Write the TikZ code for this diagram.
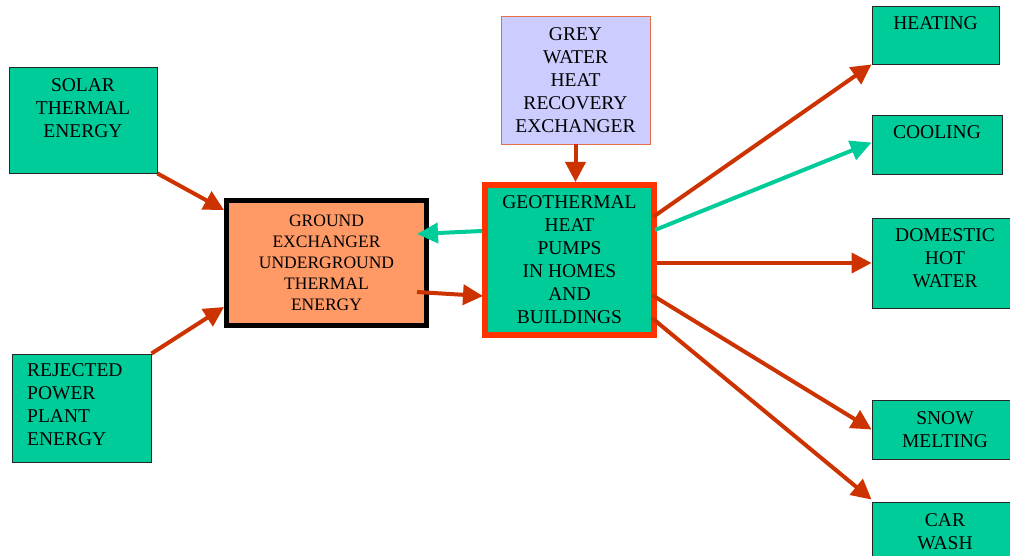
\documentclass[tikz,border=0pt]{standalone}
\usepackage{fontspec}
\setmainfont{LiberationSerif}[Extension=.ttf,UprightFont=*-Regular,BoldFont=*-Bold]
\usetikzlibrary{arrows.meta}
\definecolor{tilegreen}{RGB}{0,204,153}
\definecolor{rust}{RGB}{204,51,0}
\definecolor{brightred}{RGB}{255,51,0}
\definecolor{salmon}{RGB}{255,153,102}
\definecolor{lavender}{RGB}{204,204,255}
\definecolor{brick}{RGB}{228,112,74}

\begin{document}
\begin{tikzpicture}[x=1pt,y=-1pt]
	\tikzstyle{txt}=[align=center,inner sep=0pt,font=\rmfamily\fontsize{19.5}{23}\selectfont]
	\tikzstyle{tile}=[draw=black!85,fill=tilegreen,line width=0.9pt,txt]
	\tikzstyle{groundbox}=[draw=black,fill=salmon,line width=5pt,txt,font=\rmfamily\fontsize{17.5}{21}\selectfont]
	\tikzstyle{pumpbox}=[draw=brightred,fill=tilegreen,line width=6pt,txt]
	\tikzstyle{greybox}=[draw=brick,fill=lavender,line width=0.9pt,txt]
	\tikzstyle{hot}=[draw=rust,line width=4pt,-{Triangle[length=20pt,width=20pt]}]
	\tikzstyle{cold}=[draw=tilegreen,line width=4pt,-{Triangle[length=21pt,width=20pt]}]
	\path[use as bounding box,clip] (0,0) rectangle (1010,556);
	% sources
	\node[tile,minimum width=148,minimum height=106] (solar) at (83,120){};
	\node[txt] (solar-t) at ([shift={(0,-12)}]solar.center){SOLAR\\THERMAL\\ENERGY};
	\node[tile,minimum width=139,minimum height=108] (rejected) at (81.5,408){};
	\node[txt,align=left,anchor=west] (rejected-t) at (27,405){REJECTED\\POWER\\PLANT\\ENERGY};
	\node[greybox,minimum width=149,minimum height=128] (grey) at (575.5,80){GREY\\WATER\\HEAT\\RECOVERY\\EXCHANGER};
	% centre
	\node[groundbox,minimum width=200,minimum height=125] (ground) at (326.5,263){GROUND\\EXCHANGER\\UNDERGROUND\\THERMAL\\ENERGY};
	\node[pumpbox,minimum width=169,minimum height=150] (geo) at (569.5,260){GEOTHERMAL\\HEAT\\PUMPS\\IN HOMES\\AND\\BUILDINGS};
	% uses
	\node[tile,minimum width=127,minimum height=58] (heating) at (935.5,35){};
	\node[txt] (heating-t) at ([shift={(0,-12)}]heating.center){HEATING};
	\node[tile,minimum width=130,minimum height=59] (cooling) at (937,144.5){};
	\node[txt] (cooling-t) at ([shift={(0,-12)}]cooling.center){COOLING};
	\node[tile,minimum width=146,minimum height=90] (hotwater) at (945,263){};
	\node[txt] (hotwater-t) at ([shift={(0,-5)}]hotwater.center){DOMESTIC\\HOT\\WATER};
	\node[tile,minimum width=146,minimum height=59] (snow) at (945,429.5){SNOW\\MELTING};
	\node[tile,minimum width=146,minimum height=60] (carwash) at (945,532){CAR\\WASH};
	% arrows
	\draw[hot] (solar.south east) -- ([shift={(0,12)}]ground.north west);
	\draw[hot] (rejected.north east) -- ([shift={(0,-21)}]ground.south west);
	\draw[hot] (grey.south) -- (grey.south |- geo.north);
	\draw[hot] ([shift={(-12,29)}]ground.east) -- ([shift={(1,36)}]geo.west);
	\draw[cold] ([shift={(0,-29)}]geo.west) -- ([shift={(-12,-29)}]ground.east);
	\draw[hot] ([shift={(-4,35)}]geo.north east) -- (heating.south west);
	\draw[cold] ([shift={(-2,48)}]geo.north east) -- ([shift={(0,28)}]cooling.north west);
	\draw[hot] (geo.east |- hotwater.west) -- (hotwater.west);
	\draw[hot] ([shift={(-5,35)}]geo.east) -- (snow.west);
	\draw[hot] ([shift={(-5,58)}]geo.east) -- ([shift={(0,-2)}]carwash.north west);
\end{tikzpicture}
\end{document}
